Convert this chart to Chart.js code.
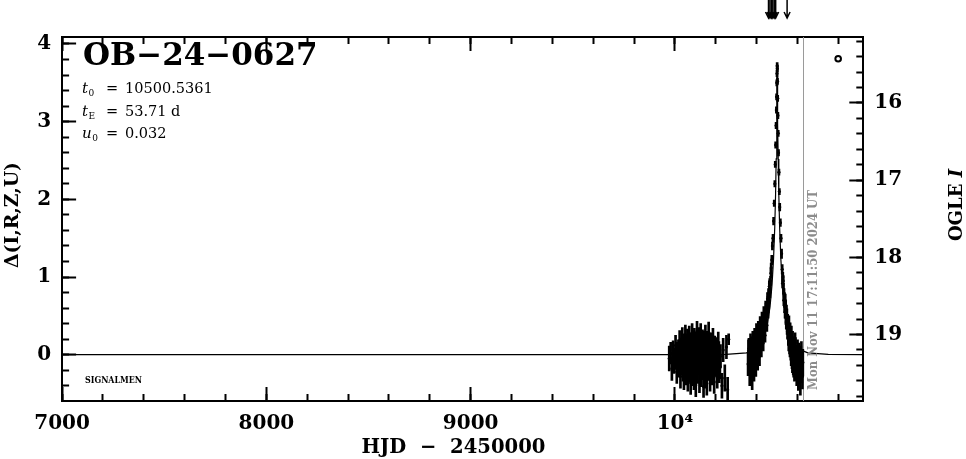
<!DOCTYPE html>
<html lang="en">
<head>
<meta charset="UTF-8">
<title>OB-24-0627</title>
<script src="https://cdn.jsdelivr.net/npm/chart.js"></script>
<style>
  body { margin: 0; background: #fff; }
  #wrap { width: 966px; height: 459px; }
</style>
</head>
<body>
<div id="wrap"><canvas id="lc" width="966" height="459"></canvas></div>
<script>
// event info
const eventName = 'OB\u221224\u22120627';
const fitParams = [['t', '0', '10500.5361'], ['t', 'E', '53.71 d'], ['u', '0', '0.032']];
const nowHJD = 10626.2;
const nowLabel = 'Mon Nov 11 17:11:50 2024 UT';
const arrowTimes = [10458, 10465, 10472, 10479, 10486, 10493, 10549];

// axes
const xTickValues = [7000, 8000, 9000, 10000];
const xTickLabels = ['7000', '8000', '9000', '10\u2074'];
const yTickValues = [0, 1, 2, 3, 4];
const yTickLabels = ['0', '1', '2', '3', '4'];
const magTickValues = [16, 17, 18, 19];
const magTickLabels = ['16', '17', '18', '19'];

// OGLE photometry: [HJD-2450000, delta mag, error]
const season2023 = [
  [9972, -0.05, 0.16], [9979, 0.02, 0.14], [9985, -0.18, 0.15], [9991, 0.06, 0.12],
  [9996, -0.10, 0.14], [10003, 0.12, 0.13], [10009, -0.22, 0.15], [10014, 0.04, 0.12],
  [10019, -0.15, 0.14], [10023, 0.18, 0.13], [10027, -0.28, 0.15], [10030, 0.09, 0.12],
  [10033, -0.06, 0.14], [10036, 0.22, 0.13], [10039, -0.19, 0.15], [10041, 0.03, 0.11],
  [10044, -0.31, 0.14], [10046, 0.15, 0.12], [10049, -0.09, 0.13], [10051, 0.26, 0.12],
  [10054, -0.24, 0.15], [10056, 0.01, 0.11], [10058, -0.14, 0.13], [10061, 0.19, 0.14],
  [10063, -0.33, 0.14], [10065, 0.07, 0.12], [10068, -0.05, 0.12], [10070, 0.24, 0.13],
  [10072, -0.21, 0.14], [10075, 0.11, 0.12], [10077, -0.36, 0.15], [10079, 0.05, 0.11],
  [10081, -0.11, 0.13], [10084, 0.28, 0.12], [10086, -0.26, 0.14], [10088, 0.13, 0.12],
  [10090, -0.02, 0.11], [10093, -0.30, 0.15], [10095, 0.21, 0.13], [10097, -0.16, 0.13],
  [10099, 0.08, 0.11], [10102, -0.39, 0.15], [10104, 0.17, 0.12], [10106, -0.07, 0.12],
  [10108, 0.30, 0.13], [10111, -0.23, 0.14], [10113, 0.02, 0.11], [10115, -0.13, 0.13],
  [10117, 0.23, 0.12], [10120, -0.34, 0.15], [10122, 0.10, 0.12], [10124, -0.04, 0.11],
  [10126, 0.27, 0.13], [10129, -0.27, 0.14], [10131, 0.06, 0.12], [10133, -0.18, 0.13],
  [10135, 0.20, 0.12], [10138, -0.08, 0.12], [10140, -0.41, 0.14], [10142, 0.14, 0.12],
  [10144, 0.00, 0.11], [10147, -0.29, 0.14], [10149, 0.25, 0.13], [10151, -0.12, 0.12],
  [10153, 0.09, 0.11], [10156, -0.37, 0.15], [10158, 0.18, 0.12], [10160, -0.03, 0.12],
  [10163, -0.20, 0.13], [10165, 0.29, 0.13], [10167, -0.10, 0.12], [10170, 0.04, 0.11],
  [10172, -0.32, 0.15], [10175, 0.16, 0.12], [10177, -0.17, 0.13], [10180, 0.08, 0.12],
  [10183, -0.25, 0.14], [10186, 0.21, 0.13], [10189, -0.06, 0.12], [10192, -0.35, 0.15],
  [10195, 0.12, 0.12], [10199, -0.14, 0.14], [10203, 0.03, 0.13], [10207, -0.28, 0.15],
  [10212, 0.15, 0.14], [10217, -0.20, 0.16], [10223, -0.02, 0.15], [10230, -0.40, 0.16],
  [10236, 0.06, 0.15], [10244, -0.30, 0.17], [10252, 0.10, 0.15], [10258, -0.45, 0.16],
  [10263, 0.20, 0.07],
  [10000, -0.05, 0.14], [10006, 0.02, 0.14], [10011, -0.08, 0.13], [10017, 0.05, 0.14],
  [10021, -0.05, 0.13], [10025, 0.04, 0.14], [10029, -0.12, 0.13], [10032, 0.02, 0.13],
  [10035, -0.12, 0.14], [10038, 0.10, 0.12], [10043, -0.03, 0.13], [10048, 0.07, 0.14],
  [10053, -0.10, 0.12], [10057, 0.12, 0.13], [10060, -0.02, 0.14], [10064, -0.15, 0.12],
  [10067, 0.14, 0.13], [10071, 0.00, 0.14], [10074, -0.08, 0.13], [10076, 0.16, 0.12],
  [10080, -0.18, 0.14], [10083, 0.04, 0.13], [10087, -0.06, 0.14], [10089, 0.18, 0.12],
  [10092, 0.06, 0.13], [10094, -0.12, 0.14], [10098, 0.00, 0.13], [10101, 0.12, 0.14],
  [10103, -0.20, 0.12], [10105, 0.05, 0.13], [10107, -0.10, 0.14], [10110, 0.09, 0.13],
  [10112, -0.04, 0.12], [10116, 0.06, 0.14], [10119, -0.09, 0.13], [10121, 0.15, 0.12],
  [10123, -0.16, 0.14], [10125, 0.02, 0.13], [10128, -0.01, 0.14], [10130, 0.13, 0.12],
  [10132, -0.11, 0.13], [10134, 0.05, 0.14], [10137, -0.19, 0.13], [10139, 0.08, 0.12],
  [10141, -0.05, 0.14], [10143, 0.17, 0.13], [10146, -0.13, 0.12], [10148, 0.01, 0.14],
  [10150, -0.07, 0.13], [10152, 0.11, 0.12], [10155, -0.14, 0.14], [10157, 0.04, 0.13],
  [10159, -0.09, 0.12], [10162, 0.10, 0.14], [10164, -0.04, 0.13], [10166, 0.07, 0.12],
  [10169, -0.15, 0.14], [10171, 0.13, 0.13], [10174, -0.02, 0.12], [10176, 0.06, 0.14],
  [10179, -0.12, 0.13], [10182, 0.03, 0.14], [10185, -0.08, 0.13], [10188, 0.10, 0.14],
  [10191, -0.17, 0.13], [10194, 0.00, 0.14], [10197, -0.05, 0.14], [10201, -0.10, 0.15],
  [10205, 0.08, 0.14], [10210, -0.12, 0.15], [10215, 0.02, 0.15], [10220, -0.15, 0.16]
];
const season2024 = [
  [10358, -0.12, 0.15], [10362, 0.08, 0.13], [10366, -0.25, 0.15], [10370, 0.15, 0.12],
  [10374, -0.05, 0.13], [10378, -0.30, 0.15], [10381, 0.18, 0.12], [10384, 0.02, 0.12],
  [10387, -0.20, 0.14], [10390, 0.22, 0.12], [10393, 0.05, 0.11], [10396, -0.15, 0.13],
  [10399, 0.28, 0.12], [10402, 0.10, 0.11], [10405, -0.08, 0.12], [10408, 0.32, 0.11],
  [10411, 0.14, 0.10], [10414, -0.02, 0.12], [10417, 0.38, 0.11], [10420, 0.20, 0.10],
  [10423, 0.08, 0.11], [10426, 0.45, 0.10], [10429, 0.26, 0.10], [10432, 0.15, 0.10],
  [10435, 0.52, 0.10], [10438, 0.35, 0.09], [10441, 0.25, 0.09], [10444, 0.60, 0.09],
  [10447, 0.45, 0.09], [10450, 0.38, 0.08], [10453, 0.72, 0.08], [10456, 0.55, 0.08],
  [10459, 0.66, 0.07], [10462, 0.88, 0.07], [10465, 0.80, 0.07], [10468, 0.95, 0.06],
  [10471, 1.12, 0.06], [10474, 1.22, 0.06], [10477, 1.40, 0.05], [10480, 1.50, 0.05],
  [10483, 1.72, 0.05], [10486, 1.95, 0.04], [10489, 2.20, 0.04], [10491, 2.45, 0.04],
  [10493, 2.70, 0.04], [10495, 2.95, 0.04], [10496.5, 3.15, 0.04], [10497.5, 3.32, 0.04],
  [10498.5, 3.50, 0.04], [10499.5, 3.62, 0.04], [10500.3, 3.72, 0.04], [10501, 3.68, 0.04],
  [10502, 3.52, 0.04], [10503, 3.30, 0.04], [10504, 3.08, 0.04], [10505.5, 2.85, 0.04],
  [10507, 2.60, 0.04], [10509, 2.35, 0.04], [10511, 2.10, 0.04], [10513, 1.90, 0.05],
  [10516, 1.70, 0.05], [10519, 1.50, 0.05], [10522, 1.30, 0.06], [10525, 1.10, 0.06],
  [10528, 1.00, 0.06], [10531, 0.85, 0.07], [10534, 0.78, 0.07], [10537, 0.62, 0.08],
  [10540, 0.70, 0.08], [10543, 0.48, 0.09], [10546, 0.55, 0.09], [10549, 0.35, 0.09],
  [10552, 0.42, 0.10], [10555, 0.22, 0.10], [10558, 0.40, 0.10], [10561, 0.12, 0.11],
  [10564, 0.30, 0.11], [10567, 0.05, 0.12], [10570, 0.25, 0.12], [10573, -0.05, 0.13],
  [10576, 0.18, 0.12], [10579, -0.12, 0.14], [10582, 0.10, 0.13], [10585, -0.20, 0.14],
  [10588, 0.15, 0.13], [10592, -0.08, 0.14], [10596, -0.25, 0.15], [10600, 0.05, 0.14],
  [10604, -0.30, 0.16], [10609, -0.10, 0.15], [10614, -0.35, 0.17], [10619, 0.02, 0.15],
  [10624, -0.28, 0.16],
  [10360, 0.05, 0.14], [10364, -0.10, 0.13], [10368, 0.00, 0.14], [10372, -0.18, 0.13],
  [10376, 0.10, 0.13], [10380, -0.08, 0.14], [10383, 0.12, 0.12], [10386, 0.00, 0.13],
  [10389, -0.05, 0.12], [10392, 0.15, 0.12], [10395, 0.02, 0.12], [10398, 0.10, 0.11],
  [10401, -0.02, 0.12], [10404, 0.20, 0.11], [10407, 0.08, 0.11], [10410, 0.25, 0.10],
  [10413, 0.12, 0.11], [10416, 0.22, 0.10], [10419, 0.30, 0.10], [10422, 0.18, 0.10],
  [10425, 0.30, 0.10], [10428, 0.40, 0.10], [10431, 0.30, 0.09], [10434, 0.40, 0.09],
  [10437, 0.48, 0.09], [10440, 0.42, 0.09], [10443, 0.50, 0.08], [10446, 0.58, 0.08],
  [10449, 0.55, 0.08], [10452, 0.60, 0.08], [10455, 0.68, 0.07], [10458, 0.78, 0.07],
  [10461, 0.75, 0.07], [10464, 0.92, 0.06], [10467, 0.90, 0.06], [10470, 1.05, 0.06],
  [10527, 0.92, 0.06], [10530, 0.95, 0.07], [10533, 0.70, 0.07], [10536, 0.72, 0.08],
  [10539, 0.55, 0.08], [10542, 0.60, 0.09], [10545, 0.42, 0.09], [10548, 0.50, 0.09],
  [10551, 0.30, 0.10], [10554, 0.38, 0.10], [10557, 0.15, 0.10], [10560, 0.28, 0.11],
  [10563, 0.08, 0.11], [10566, 0.20, 0.12], [10569, -0.02, 0.12], [10572, 0.12, 0.12],
  [10575, -0.10, 0.13], [10578, 0.05, 0.13], [10581, -0.15, 0.14], [10584, 0.02, 0.13],
  [10587, -0.10, 0.14], [10590, 0.08, 0.14], [10594, -0.18, 0.15], [10598, -0.02, 0.14],
  [10602, -0.15, 0.15], [10606, 0.00, 0.15], [10611, -0.22, 0.16], [10616, -0.05, 0.16],
  [10621, -0.20, 0.16], [10626, -0.10, 0.17]
];

// model curve
const modelT = [7000, 10100.5, 10250.5, 10350.5, 10400.5, 10430.5, 10450.5, 10465.5, 10475.5,
  10482.5, 10488.5, 10492.5, 10495.5, 10497.5, 10498.5, 10499.5, 10500.5, 10501.5, 10502.5,
  10503.5, 10505.5, 10508.5, 10512.5, 10518.5, 10525.5, 10535.5, 10550.5, 10570.5, 10600.5,
  10650.5, 10750.5, 10922];
const modelD = [0, 0.002, 0.004, 0.023, 0.078, 0.188, 0.362, 0.618, 0.911,
  1.227, 1.636, 2.052, 2.521, 2.980, 3.273, 3.579, 3.738, 3.579, 3.273,
  2.980, 2.521, 2.052, 1.636, 1.227, 0.911, 0.618, 0.362, 0.188, 0.078,
  0.023, 0.004, 0.001];

const ogleMark = [10799, 3.81];

const serif = '"DejaVu Serif", serif';
const tickFont = { family: serif, size: 20, weight: 'bold' };

const allPoints = season2023.concat(season2024);
const errorBars = allPoints.map(([t, d, e]) => ({ x: t, y: [d - e, d + e] }));
const points = allPoints.map(([t, d]) => ({ x: t, y: d }));
const model = modelT.map((t, i) => ({ x: t, y: modelD[i] }));

function setTicks(values) {
  return s => { s.ticks = values.map(v => ({ value: v })); };
}

// major/minor axis pair on one side, ticks pointing inward
function axisPair(id, pos, range, size, majors, labels, minorStep, extra) {
  const isX = pos === 'top' || pos === 'bottom';
  const sizeProp = isX ? 'height' : 'width';
  const major = Object.assign({
    type: 'linear', axis: isX ? 'x' : 'y', position: pos, weight: 1,
    min: range[0], max: range[1], offset: false,
    afterFit: s => { s[sizeProp] = size; },
    afterBuildTicks: setTicks(majors),
    ticks: {
      display: !!labels, font: tickFont, color: '#000', padding: 25,
      maxRotation: 0, autoSkip: false,
      callback: v => labels ? labels[majors.indexOf(v)] : ''
    },
    grid: { offset: false, drawOnChartArea: false, drawTicks: true, tickLength: -14, tickWidth: 2, tickColor: '#000' },
    border: { display: true, color: '#000', width: 2 }
  }, extra || {});
  const minor = Object.assign({
    type: 'linear', axis: isX ? 'x' : 'y', position: pos, weight: 0,
    min: range[0], max: range[1], offset: false,
    afterFit: s => { s[sizeProp] = 0; },
    ticks: { display: false, stepSize: minorStep, includeBounds: false },
    grid: { offset: false, drawOnChartArea: false, drawTicks: true, tickLength: -7, tickWidth: 2, tickColor: '#000' },
    border: { display: false }
  }, extra || {});
  const out = {};
  out[id] = major;
  out[id + 'm'] = minor;
  return out;
}

const xRange = [7000, 10922];
const yRange = [-0.596, 4.09];
const magRange = [15.145, 19.862];

const scales = Object.assign({},
  axisPair('x', 'bottom', xRange, 58, xTickValues, xTickLabels, 200),
  axisPair('xt', 'top', xRange, 26, xTickValues, null, 200),
  axisPair('y', 'left', yRange, 62.1, yTickValues, yTickLabels, 0.2),
  axisPair('mag', 'right', magRange, 102.7, magTickValues, magTickLabels, 0.2, { reverse: true })
);

const decor = {
  id: 'decor',
  beforeDatasetsDraw(chart) {
    const { ctx, chartArea: a, scales: { x } } = chart;
    const px = Math.round(x.getPixelForValue(nowHJD)) + 0.5;
    ctx.save();
    ctx.strokeStyle = '#9a9a9a';
    ctx.lineWidth = 1;
    ctx.beginPath();
    ctx.moveTo(px, a.top);
    ctx.lineTo(px, a.bottom);
    ctx.stroke();
    ctx.restore();
  },
  afterDraw(chart) {
    const { ctx, scales: { x } } = chart;
    ctx.save();
    ctx.fillStyle = '#000';
    ctx.textAlign = 'left';
    ctx.textBaseline = 'alphabetic';

    // event name
    ctx.font = 'bold 31px ' + serif;
    ctx.fillText(eventName, 83, 65, 239);

    // fit parameters
    fitParams.forEach(([sym, sub, val], i) => {
      const y = 93 + i * 22.5;
      ctx.font = 'italic 15px ' + serif;
      ctx.fillText(sym, 82, y);
      const w = ctx.measureText(sym).width;
      ctx.font = '9px ' + serif;
      ctx.fillText(sub, 82 + w + 0.5, y + 3);
      ctx.font = '14.5px ' + serif;
      ctx.fillText('=', 106, y);
      ctx.fillText(val, 125, y);
    });

    ctx.font = 'bold 8.5px ' + serif;
    ctx.fillText('SIGNALMEN', 85, 383, 57);

    // axis titles
    ctx.font = 'bold 20px ' + serif;
    ctx.textAlign = 'center';
    ctx.textBaseline = 'middle';
    ctx.fillText('HJD  \u2212  2450000', 453.5, 448, 184);

    ctx.save();
    ctx.translate(13, 215);
    ctx.rotate(-Math.PI / 2);
    ctx.font = 'bold 19px ' + serif;
    ctx.fillText('\u0394(I,R,Z,U)', 0, 0, 106);
    ctx.restore();

    ctx.save();
    ctx.translate(957, 205);
    ctx.rotate(-Math.PI / 2);
    ctx.font = 'bold 18px ' + serif;
    ctx.textAlign = 'left';
    const w1 = ctx.measureText('OGLE ').width;
    ctx.font = 'bold italic 18px ' + serif;
    const w2 = ctx.measureText('I').width;
    const start = -(w1 + w2) / 2;
    ctx.font = 'bold 18px ' + serif;
    ctx.fillText('OGLE ', start, 0);
    ctx.font = 'bold italic 18px ' + serif;
    ctx.fillText('I', start + w1, 0);
    ctx.restore();

    // current date label along the grey line
    const px = x.getPixelForValue(nowHJD);
    ctx.save();
    ctx.translate(px + 14, 390);
    ctx.rotate(-Math.PI / 2);
    ctx.fillStyle = '#8c8c8c';
    ctx.font = 'bold 13px ' + serif;
    ctx.textAlign = 'left';
    ctx.textBaseline = 'alphabetic';
    ctx.fillText(nowLabel, 0, 0, 200);
    ctx.restore();

    // alert arrows above the frame
    ctx.strokeStyle = '#000';
    ctx.lineWidth = 1.5;
    arrowTimes.forEach(t => {
      const ax = x.getPixelForValue(t);
      ctx.beginPath();
      ctx.moveTo(ax, 0);
      ctx.lineTo(ax, 18);
      ctx.moveTo(ax - 3, 12);
      ctx.lineTo(ax, 18);
      ctx.lineTo(ax + 3, 12);
      ctx.stroke();
    });
    ctx.restore();
  }
};

new Chart(document.getElementById('lc'), {
  data: {
    datasets: [
      {
        type: 'line', data: model, borderColor: '#000', borderWidth: 1.2,
        pointRadius: 0, tension: 0, xAxisID: 'x', yAxisID: 'y', order: 3
      },
      {
        type: 'bar', data: errorBars, backgroundColor: '#000', borderWidth: 0,
        barThickness: 2, grouped: false, xAxisID: 'x', yAxisID: 'y', order: 2
      },
      {
        type: 'scatter', data: points, backgroundColor: '#000', borderWidth: 0,
        pointRadius: 1.6, xAxisID: 'x', yAxisID: 'y', order: 1
      },
      {
        type: 'scatter', data: [{ x: ogleMark[0], y: ogleMark[1] }],
        backgroundColor: '#fff', borderColor: '#000', borderWidth: 2,
        pointRadius: 2.8, xAxisID: 'x', yAxisID: 'y', order: 0
      }
    ]
  },
  options: {
    responsive: false,
    animation: false,
    events: [],
    layout: { padding: 0 },
    plugins: { legend: { display: false }, tooltip: { enabled: false } },
    scales: scales
  },
  plugins: [decor]
});
</script>
</body>
</html>
